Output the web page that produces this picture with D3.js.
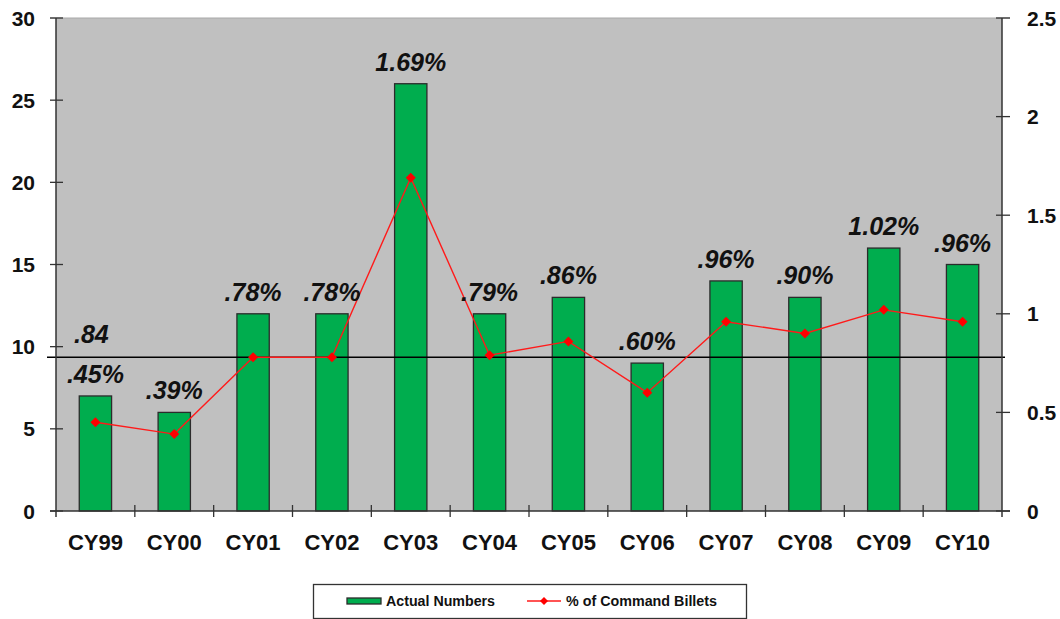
<!DOCTYPE html>
<html>
<head>
<meta charset="utf-8">
<script src="https://cdn.jsdelivr.net/npm/d3@7"></script>
<style>
  html, body { margin: 0; padding: 0; background: #fff; }
  svg { display: block; font-family: "Liberation Sans", Arial, sans-serif; }
</style>
</head>
<body>
<svg id="chart" width="1060" height="619"></svg>
<script>
// ---- data ----
const categories = ["CY99","CY00","CY01","CY02","CY03","CY04","CY05","CY06","CY07","CY08","CY09","CY10"];
const actualNumbers = [7, 6, 12, 12, 26, 12, 13, 9, 14, 13, 16, 15];
const pctCommandBillets = [0.45, 0.39, 0.78, 0.78, 1.69, 0.79, 0.86, 0.60, 0.96, 0.90, 1.02, 0.96];
const pctLabels = [".45%", ".39%", ".78%", ".78%", "1.69%", ".79%", ".86%", ".60%", ".96%", ".90%", "1.02%", ".96%"];
const leftTicks = [0, 5, 10, 15, 20, 25, 30];
const rightTicks = [0, 0.5, 1, 1.5, 2, 2.5];
const rightTickLabels = ["0", "0.5", "1", "1.5", "2", "2.5"];
const averageValue = 0.78;
const averageLabel = ".84";
const legendLabels = ["Actual Numbers", "% of Command Billets"];

// ---- layout ----
const W = 1060, H = 619;
const margin = {left: 56, right: 58, top: 18, bottom: 108};
const pw = W - margin.left - margin.right;
const ph = H - margin.top - margin.bottom;
const svg = d3.select("#chart");
const g = svg.append("g").attr("transform", `translate(${margin.left},${margin.top})`);

const x = d3.scaleBand().domain(categories).range([0, pw]).paddingInner(0.59).paddingOuter(0.295);
const xb = d3.scaleBand().domain(categories).range([0, pw]);
const yL = d3.scaleLinear().domain([0, 30]).range([ph, 0]);
const yR = d3.scaleLinear().domain([0, 2.5]).range([ph, 0]);

// background
g.append("rect").attr("x", 0).attr("y", 0).attr("width", pw).attr("height", ph).attr("fill", "#c0c0c0");
g.append("line").attr("x1", -6).attr("x2", pw + 8).attr("y1", 0).attr("y2", 0).attr("stroke", "#a8a8a8").attr("stroke-width", 1);

// bars
g.selectAll("rect.bar").data(actualNumbers).join("rect")
  .attr("class", "bar")
  .attr("x", (d, i) => x(categories[i]))
  .attr("y", d => yL(d))
  .attr("width", x.bandwidth())
  .attr("height", d => ph - yL(d))
  .attr("fill", "#00ad4e")
  .attr("stroke", "#2b2b2b")
  .attr("stroke-width", 1.3);

// average line
g.append("line")
  .attr("x1", -9).attr("x2", pw + 3)
  .attr("y1", yR(averageValue)).attr("y2", yR(averageValue))
  .attr("stroke", "#000").attr("stroke-width", 1.5);
g.append("text")
  .attr("x", 18).attr("y", yR(averageValue) - 14)
  .attr("font-size", 25).attr("font-weight", "bold").attr("font-style", "italic")
  .attr("fill", "#111")
  .text(averageLabel);

// percent line
const cx = i => xb(categories[i]) + xb.bandwidth() / 2;
const line = d3.line().x((d, i) => cx(i)).y(d => yR(d));
g.append("path").datum(pctCommandBillets)
  .attr("d", line).attr("fill", "none")
  .attr("stroke", "#ff1a1a").attr("stroke-width", 1.4);
const diamond = "M0,-5L5,0L0,5L-5,0Z";
g.selectAll("path.pt").data(pctCommandBillets).join("path")
  .attr("class", "pt")
  .attr("transform", (d, i) => `translate(${cx(i)},${yR(d)})`)
  .attr("d", diamond)
  .attr("fill", "#ff0000");

// percent labels above bars
g.selectAll("text.lbl").data(pctLabels).join("text")
  .attr("class", "lbl")
  .attr("x", (d, i) => cx(i))
  .attr("y", (d, i) => yL(actualNumbers[i]) - 13)
  .attr("text-anchor", "middle")
  .attr("font-size", 25).attr("font-weight", "bold").attr("font-style", "italic")
  .attr("fill", "#111")
  .text(d => d);

// left axis
g.append("line").attr("x1", 0).attr("x2", 0).attr("y1", 0).attr("y2", ph + 6).attr("stroke", "#333").attr("stroke-width", 1.5);
g.selectAll("line.lt").data(leftTicks).join("line")
  .attr("class", "lt")
  .attr("x1", -6).attr("x2", 7)
  .attr("y1", d => yL(d)).attr("y2", d => yL(d))
  .attr("stroke", "#333").attr("stroke-width", 1.3);
g.selectAll("text.ltl").data(leftTicks).join("text")
  .attr("class", "ltl")
  .attr("x", -21).attr("y", d => yL(d))
  .attr("dy", "0.36em")
  .attr("text-anchor", "end")
  .attr("font-size", 21).attr("font-weight", "bold").attr("fill", "#111")
  .text(d => d);

// right axis
g.append("line").attr("x1", pw).attr("x2", pw).attr("y1", 0).attr("y2", ph + 6).attr("stroke", "#333").attr("stroke-width", 1.5);
g.selectAll("line.rt").data(rightTicks).join("line")
  .attr("class", "rt")
  .attr("x1", pw - 6).attr("x2", pw + 8)
  .attr("y1", d => yR(d)).attr("y2", d => yR(d))
  .attr("stroke", "#333").attr("stroke-width", 1.3);
g.selectAll("text.rtl").data(rightTicks).join("text")
  .attr("class", "rtl")
  .attr("x", pw + 25).attr("y", d => yR(d))
  .attr("dy", "0.36em")
  .attr("text-anchor", "start")
  .attr("font-size", 21).attr("font-weight", "bold").attr("fill", "#111")
  .text((d, i) => rightTickLabels[i]);

// bottom axis
g.append("line").attr("x1", -6).attr("x2", pw + 8).attr("y1", ph).attr("y2", ph).attr("stroke", "#333").attr("stroke-width", 1.5);
g.selectAll("line.bt").data(categories.slice(1)).join("line")
  .attr("class", "bt")
  .attr("x1", d => xb(d)).attr("x2", d => xb(d))
  .attr("y1", ph - 6).attr("y2", ph + 6)
  .attr("stroke", "#333").attr("stroke-width", 1.3);
g.selectAll("text.btl").data(categories).join("text")
  .attr("class", "btl")
  .attr("x", d => xb(d) + xb.bandwidth() / 2)
  .attr("y", ph + 31)
  .attr("dy", "0.36em")
  .attr("text-anchor", "middle")
  .attr("font-size", 22).attr("font-weight", "bold").attr("fill", "#111")
  .text(d => d);

// legend
const lg = svg.append("g");
lg.append("rect").attr("x", 313.5).attr("y", 584.5).attr("width", 433).attr("height", 34)
  .attr("fill", "#fff").attr("stroke", "#333").attr("stroke-width", 1.3);
lg.append("rect").attr("x", 347).attr("y", 598).attr("width", 34).attr("height", 6)
  .attr("fill", "#00ad4e").attr("stroke", "#2b2b2b").attr("stroke-width", 1.3);
lg.append("text").attr("x", 386).attr("y", 601).attr("dy", "0.36em")
  .attr("font-size", 14).attr("font-weight", "bold").attr("fill", "#111")
  .attr("textLength", 109).attr("lengthAdjust", "spacingAndGlyphs")
  .text(legendLabels[0]);
lg.append("line").attr("x1", 527).attr("x2", 561).attr("y1", 601).attr("y2", 601)
  .attr("stroke", "#ff1a1a").attr("stroke-width", 1.4);
lg.append("path").attr("transform", "translate(544,601)").attr("d", "M0,-4L4,0L0,4L-4,0Z").attr("fill", "#ff0000");
lg.append("text").attr("x", 566).attr("y", 601).attr("dy", "0.36em")
  .attr("font-size", 14).attr("font-weight", "bold").attr("fill", "#111")
  .attr("textLength", 151).attr("lengthAdjust", "spacingAndGlyphs")
  .text(legendLabels[1]);
</script>
</body>
</html>
